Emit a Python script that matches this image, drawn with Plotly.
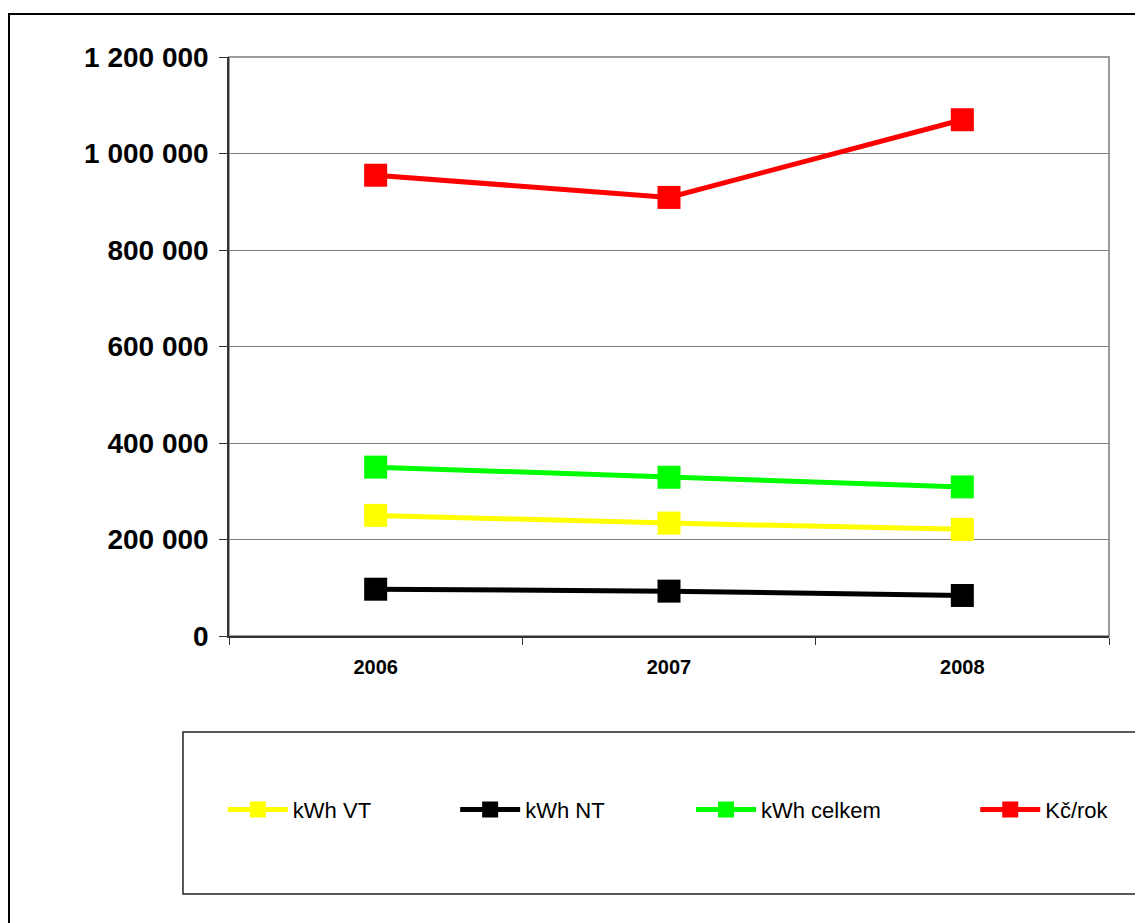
"""
Spotřeba elektřiny a náklady 2006-2008 (Plotly)
"""
import plotly.graph_objects as go

years = ["2006", "2007", "2008"]
kwh_vt = [250000, 234000, 221000]
kwh_nt = [97000, 93000, 84000]
kwh_celkem = [350000, 329000, 309000]
kc_rok = [955000, 909000, 1070000]

series_names = ["kWh VT", "kWh NT", "kWh celkem", "Kč/rok"]
series_colors = ["#FFFF00", "#000000", "#00FF00", "#FF0000"]
y_ticks = [0, 200000, 400000, 600000, 800000, 1000000, 1200000]

FONT = "Liberation Sans, Arial, sans-serif"

fig = go.Figure()

legend_ids = ["legend", "legend2", "legend3", "legend4"]
for name, values, color, lg in zip(series_names,
                                    [kwh_vt, kwh_nt, kwh_celkem, kc_rok],
                                    series_colors, legend_ids):
    fig.add_trace(go.Scatter(
        x=years,
        y=values,
        name=name,
        mode="lines+markers",
        line=dict(color=color, width=5),
        marker=dict(symbol="square", size=23, color=color),
        legend=lg,
    ))

# každá položka legendy zvlášť, aby seděly rozestupy jako v Excelu
legend_x = [-0.007, 0.257, 0.525, 0.848]
legend_common = dict(
    orientation="h",
    yanchor="middle",
    y=-0.30,
    xanchor="left",
    bgcolor="rgba(0,0,0,0)",
    font=dict(family=FONT, size=22, color="black"),
    itemwidth=60,
)
layout_legends = {}
for lg, lx in zip(legend_ids, legend_x):
    layout_legends[lg] = dict(x=lx, **legend_common)

# stránka má 8px okraj, proto menší rozměry a okraje
fig.update_layout(
    width=1135,
    height=915,
    margin=dict(l=221, r=34, t=49, b=287),
    paper_bgcolor="white",
    plot_bgcolor="white",
    separators=", ",
    showlegend=True,
    **layout_legends,
)

fig.update_xaxes(
    type="category",
    range=[-0.5, 2.5],
    showline=True,
    linecolor="#333333",
    linewidth=1.5,
    ticks="outside",
    tickson="boundaries",
    ticklen=7,
    tickcolor="#333333",
    ticklabelstandoff=12,
    showgrid=False,
    tickfont=dict(family=FONT, size=20, color="black", weight="bold"),
)
fig.update_yaxes(
    range=[0, 1200000],
    tickvals=y_ticks,
    tickformat=",",
    showline=True,
    linecolor="#333333",
    linewidth=1.5,
    ticks="outside",
    ticklen=8,
    tickcolor="#333333",
    ticklabelstandoff=5,
    showgrid=True,
    gridcolor="#7f7f7f",
    gridwidth=1,
    zeroline=False,
    tickfont=dict(family=FONT, size=28, color="black", weight="bold"),
)

# rámeček grafu, rámeček legendy a vnější rámeček
fig.add_shape(type="rect", xref="paper", yref="paper", x0=0, x1=1, y0=0, y1=1,
              line=dict(color="#9a9a9a", width=2), layer="below")
fig.add_shape(type="rect", xref="paper", yref="paper",
              x0=-0.0523, x1=1.06, y0=-0.4456, y1=-0.1658,
              line=dict(color="#222222", width=1.5))
fig.add_shape(type="rect", xref="paper", yref="paper",
              x0=-0.25, x1=1.06, y0=-0.52, y1=1.0743,
              line=dict(color="black", width=2))

fig.write_html("out.html")
